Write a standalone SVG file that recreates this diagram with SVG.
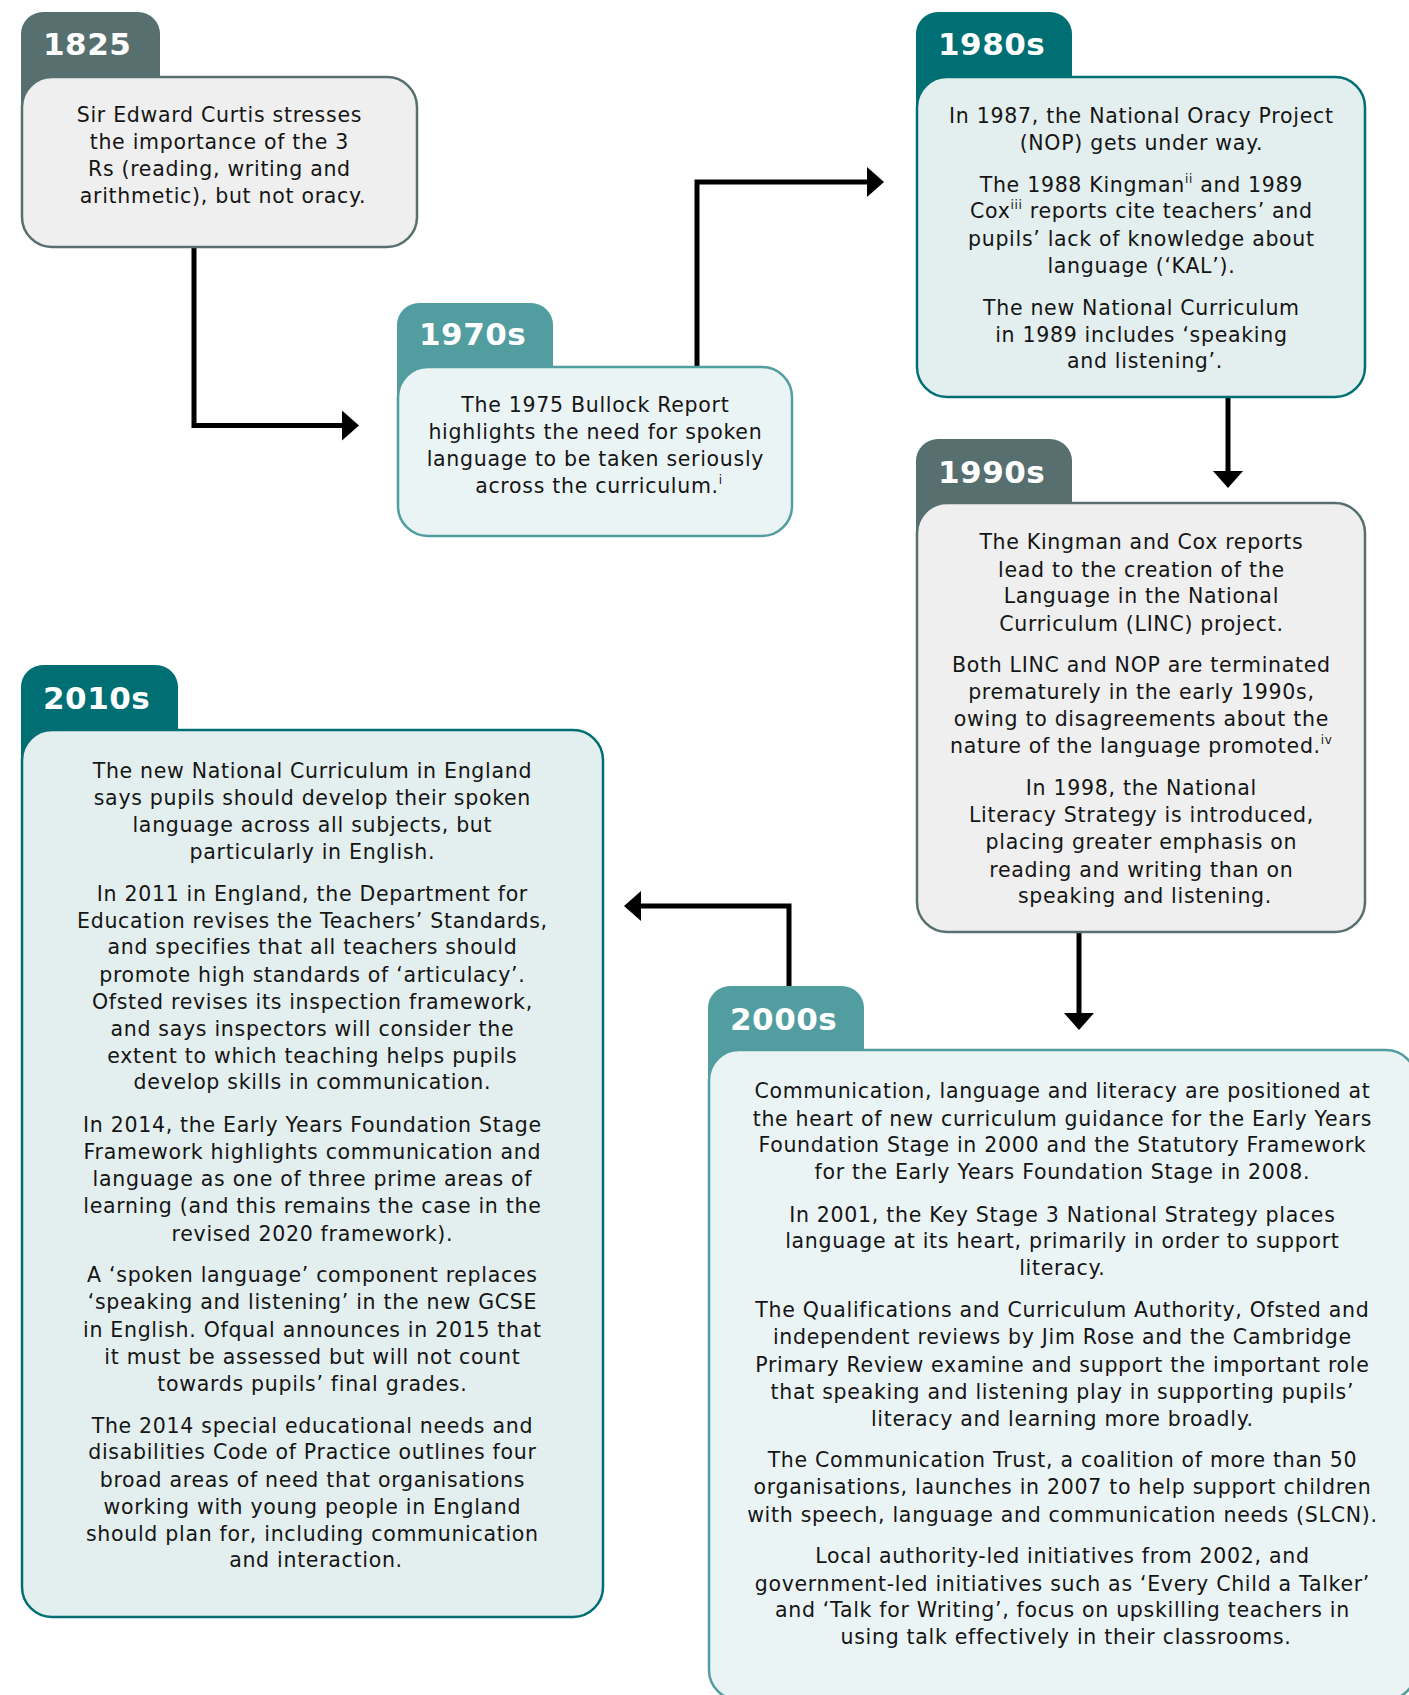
<svg xmlns="http://www.w3.org/2000/svg" width="1409" height="1695" viewBox="0 0 1409 1695">
<style>
.tab-d{fill:#576f6f}.body-d{fill:#eeefee;stroke:#576f6f}
.tab-m{fill:#529da0}.body-m{fill:#ebf4f5;stroke:#529da0}
.tab-t{fill:#006f73}.body-t{fill:#e3eeee;stroke:#006f73}
.body{stroke-width:2.5}
.yr{font-family:"DejaVu Sans",Verdana,sans-serif;font-weight:bold;font-size:31px;fill:#fff;letter-spacing:0.5px}
.txt{font-family:"DejaVu Sans",Verdana,sans-serif;font-size:20.5px;fill:#151515;text-anchor:middle;letter-spacing:0.7px}
.sup{font-size:12px}
.conn{fill:none;stroke:#000;stroke-width:5}
</style>
<defs>
<marker id="ah" markerUnits="userSpaceOnUse" markerWidth="17" markerHeight="30" refX="0" refY="15" orient="auto">
<path d="M0,0 L17,15 L0,30 Z" fill="#000"/>
</marker>
</defs>
<rect width="1409" height="1695" fill="#fff"/>
<g id="connectors">
<path class="conn" d="M194,247 V425.5 H342" marker-end="url(#ah)"/>
<path class="conn" d="M697,367 V182 H867" marker-end="url(#ah)"/>
<path class="conn" d="M1228,397 V471" marker-end="url(#ah)"/>
<path class="conn" d="M1079,932 V1013" marker-end="url(#ah)"/>
<path class="conn" d="M789,986 V906 H641" marker-end="url(#ah)"/>
</g>
<g id="n1825">
<path class="tab-d" d="M21,125 V34 A22,22 0 0 1 43,12 H138 A22,22 0 0 1 160,34 V125 Z"/>
<rect class="body body-d" x="22" y="77" width="395" height="170" rx="30"/>
<text class="yr" x="43" y="55">1825</text>
<text class="txt">
<tspan x="223" y="122">Sir Edward Curtis stresses</tspan>
<tspan x="223" y="148.5">the importance of the 3</tspan>
<tspan x="223" y="175.5">Rs (reading, writing and</tspan>
<tspan x="223" y="202.5">arithmetic), but not oracy.</tspan>
</text>
</g>
<g id="n1970s">
<path class="tab-m" d="M397,415 V325 A22,22 0 0 1 419,303 H531 A22,22 0 0 1 553,325 V415 Z"/>
<rect class="body body-m" x="398" y="367" width="394" height="169" rx="30"/>
<text class="yr" x="419" y="345">1970s</text>
<text class="txt">
<tspan x="599" y="412.3">The 1975 Bullock Report</tspan>
<tspan x="599" y="439.3">highlights the need for spoken</tspan>
<tspan x="599" y="466">language to be taken seriously</tspan>
<tspan x="599" y="493.3">across the curriculum.<tspan class="sup" dy="-9">i</tspan></tspan>
</text>
</g>
<g id="n1980s">
<path class="tab-t" d="M916,125 V34 A22,22 0 0 1 938,12 H1050 A22,22 0 0 1 1072,34 V125 Z"/>
<rect class="body body-t" x="917" y="77" width="448" height="320" rx="30"/>
<text class="yr" x="938" y="55">1980s</text>
<text class="txt">
<tspan x="1145" y="122.7">In 1987, the National Oracy Project</tspan>
<tspan x="1145" y="150">(NOP) gets under way.</tspan>
<tspan x="1145" y="191.7">The 1988 Kingman<tspan class="sup" dy="-9">ii</tspan><tspan dy="9"> and 1989</tspan></tspan>
<tspan x="1145" y="218.3">Cox<tspan class="sup" dy="-9">iii</tspan><tspan dy="9"> reports cite teachers’ and</tspan></tspan>
<tspan x="1145" y="245.7">pupils’ lack of knowledge about</tspan>
<tspan x="1145" y="272.7">language (‘KAL’).</tspan>
<tspan x="1145" y="315">The new National Curriculum</tspan>
<tspan x="1145" y="341.7">in 1989 includes ‘speaking</tspan>
<tspan x="1145" y="368.3">and listening’.</tspan>
</text>
</g>
<g id="n1990s">
<path class="tab-d" d="M916,551 V461 A22,22 0 0 1 938,439 H1050 A22,22 0 0 1 1072,461 V551 Z"/>
<rect class="body body-d" x="917" y="503" width="448" height="429" rx="30"/>
<text class="yr" x="938" y="483">1990s</text>
<text class="txt">
<tspan x="1145" y="549.3">The Kingman and Cox reports</tspan>
<tspan x="1145" y="576.7">lead to the creation of the</tspan>
<tspan x="1145" y="603.3">Language in the National</tspan>
<tspan x="1145" y="630.7">Curriculum (LINC) project.</tspan>
<tspan x="1145" y="672.3">Both LINC and NOP are terminated</tspan>
<tspan x="1145" y="699.3">prematurely in the early 1990s,</tspan>
<tspan x="1145" y="726">owing to disagreements about the</tspan>
<tspan x="1145" y="753.3">nature of the language promoted.<tspan class="sup" dy="-9">iv</tspan></tspan>
<tspan x="1145" y="795">In 1998, the National</tspan>
<tspan x="1145" y="822.3">Literacy Strategy is introduced,</tspan>
<tspan x="1145" y="849.3">placing greater emphasis on</tspan>
<tspan x="1145" y="876.7">reading and writing than on</tspan>
<tspan x="1145" y="903.3">speaking and listening.</tspan>
</text>
</g>
<g id="n2000s">
<path class="tab-m" d="M708,1098 V1008 A22,22 0 0 1 730,986 H842 A22,22 0 0 1 864,1008 V1098 Z"/>
<rect class="body body-m" x="709" y="1050" width="707" height="650" rx="30"/>
<text class="yr" x="730" y="1030">2000s</text>
<text class="txt">
<tspan x="1066" y="1098.3">Communication, language and literacy are positioned at</tspan>
<tspan x="1066" y="1125.7">the heart of new curriculum guidance for the Early Years</tspan>
<tspan x="1066" y="1152.3">Foundation Stage in 2000 and the Statutory Framework</tspan>
<tspan x="1066" y="1179.3">for the Early Years Foundation Stage in 2008.</tspan>
<tspan x="1066" y="1221.7">In 2001, the Key Stage 3 National Strategy places</tspan>
<tspan x="1066" y="1248.3">language at its heart, primarily in order to support</tspan>
<tspan x="1066" y="1275">literacy.</tspan>
<tspan x="1066" y="1317.3">The Qualifications and Curriculum Authority, Ofsted and</tspan>
<tspan x="1066" y="1344.3">independent reviews by Jim Rose and the Cambridge</tspan>
<tspan x="1066" y="1371.7">Primary Review examine and support the important role</tspan>
<tspan x="1066" y="1399">that speaking and listening play in supporting pupils’</tspan>
<tspan x="1066" y="1425.7">literacy and learning more broadly.</tspan>
<tspan x="1066" y="1467.3">The Communication Trust, a coalition of more than 50</tspan>
<tspan x="1066" y="1494.3">organisations, launches in 2007 to help support children</tspan>
<tspan x="1066" y="1521.7">with speech, language and communication needs (SLCN).</tspan>
<tspan x="1066" y="1563.3">Local authority-led initiatives from 2002, and</tspan>
<tspan x="1066" y="1590.7">government-led initiatives such as ‘Every Child a Talker’</tspan>
<tspan x="1066" y="1617.3">and ‘Talk for Writing’, focus on upskilling teachers in</tspan>
<tspan x="1066" y="1644.3">using talk effectively in their classrooms.</tspan>
</text>
</g>
<g id="n2010s">
<path class="tab-t" d="M21,778 V687 A22,22 0 0 1 43,665 H156 A22,22 0 0 1 178,687 V778 Z"/>
<rect class="body body-t" x="22" y="730" width="581" height="887" rx="30"/>
<text class="yr" x="43" y="709">2010s</text>
<text class="txt">
<tspan x="316" y="777.7">The new National Curriculum in England</tspan>
<tspan x="316" y="805">says pupils should develop their spoken</tspan>
<tspan x="316" y="831.7">language across all subjects, but</tspan>
<tspan x="316" y="859">particularly in English.</tspan>
<tspan x="316" y="900.7">In 2011 in England, the Department for</tspan>
<tspan x="316" y="927.7">Education revises the Teachers’ Standards,</tspan>
<tspan x="316" y="954.3">and specifies that all teachers should</tspan>
<tspan x="316" y="981.7">promote high standards of ‘articulacy’.</tspan>
<tspan x="316" y="1009">Ofsted revises its inspection framework,</tspan>
<tspan x="316" y="1035.7">and says inspectors will consider the</tspan>
<tspan x="316" y="1062.7">extent to which teaching helps pupils</tspan>
<tspan x="316" y="1089.3">develop skills in communication.</tspan>
<tspan x="316" y="1131.5">In 2014, the Early Years Foundation Stage</tspan>
<tspan x="316" y="1159">Framework highlights communication and</tspan>
<tspan x="316" y="1186">language as one of three prime areas of</tspan>
<tspan x="316" y="1213">learning (and this remains the case in the</tspan>
<tspan x="316" y="1240.7">revised 2020 framework).</tspan>
<tspan x="316" y="1282">A ‘spoken language’ component replaces</tspan>
<tspan x="316" y="1309">‘speaking and listening’ in the new GCSE</tspan>
<tspan x="316" y="1336.7">in English. Ofqual announces in 2015 that</tspan>
<tspan x="316" y="1364">it must be assessed but will not count</tspan>
<tspan x="316" y="1390.7">towards pupils’ final grades.</tspan>
<tspan x="316" y="1432.7">The 2014 special educational needs and</tspan>
<tspan x="316" y="1459.3">disabilities Code of Practice outlines four</tspan>
<tspan x="316" y="1486.7">broad areas of need that organisations</tspan>
<tspan x="316" y="1514">working with young people in England</tspan>
<tspan x="316" y="1540.7">should plan for, including communication</tspan>
<tspan x="316" y="1567.3">and interaction.</tspan>
</text>
</g>
</svg>
